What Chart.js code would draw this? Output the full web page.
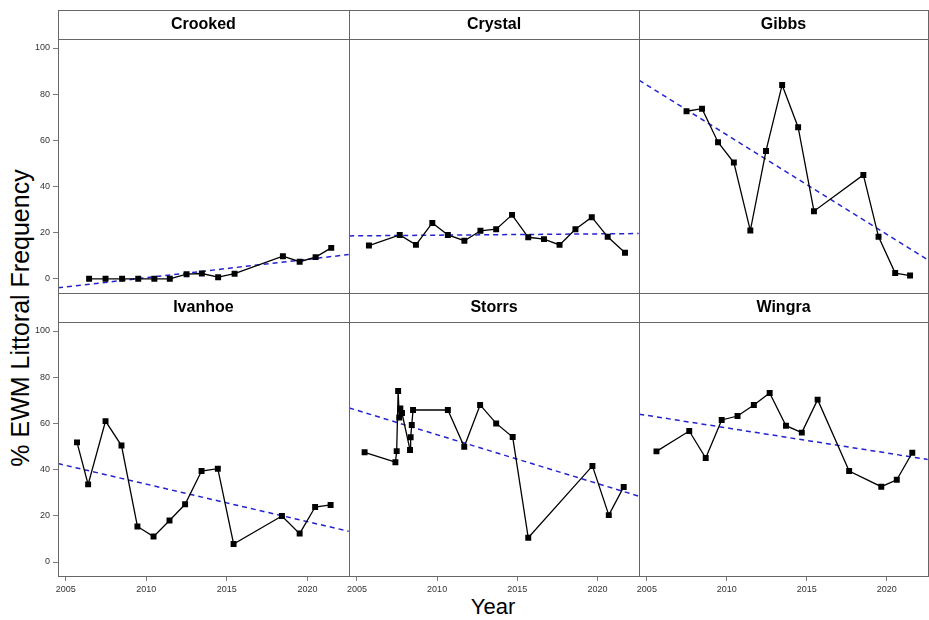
<!DOCTYPE html>
<html>
<head>
<meta charset="utf-8">
<script src="https://cdn.jsdelivr.net/npm/chart.js@4.4.1/dist/chart.umd.min.js"></script>
<style>
html,body{margin:0;padding:0;background:#fff;}
#wrap{position:relative;width:929px;height:620px;overflow:hidden;font-family:"Liberation Sans",Arial,sans-serif;background:#fff;}
#wrap canvas{position:absolute;}
#ylab{position:absolute;left:20px;top:318px;transform:translate(-50%,-50%) rotate(-90deg);font-size:25px;white-space:nowrap;color:#000;}
#xlab{position:absolute;left:493px;top:607px;transform:translate(-50%,-50%);font-size:22px;white-space:nowrap;color:#000;}
</style>
</head>
<body>
<div id="wrap">
  <div id="ylab">% EWM Littoral Frequency</div>
  <div id="xlab">Year</div>
</div>
<script>
// ---- data ----
const lakes = ["Crooked", "Crystal", "Gibbs", "Ivanhoe", "Storrs", "Wingra"];

const crookedYears  = [2006.45, 2007.47, 2008.5, 2009.5, 2010.5, 2011.46, 2012.5, 2013.45, 2014.46, 2015.48, 2018.48, 2019.52, 2020.51, 2021.48];
const crookedValues = [0, 0, 0, 0, 0, 0, 2.0, 2.3, 0.7, 2.2, 9.8, 7.4, 9.4, 13.4];

const crystalYears  = [2005.75, 2007.67, 2008.68, 2009.7, 2010.67, 2011.7, 2012.7, 2013.68, 2014.67, 2015.68, 2016.66, 2017.63, 2018.62, 2019.64, 2020.63, 2021.71];
const crystalValues = [14.4, 19.0, 14.7, 24.2, 19.0, 16.5, 20.8, 21.5, 27.7, 18.0, 17.2, 14.7, 21.5, 26.7, 18.2, 11.3];

const gibbsYears  = [2007.48, 2008.45, 2009.45, 2010.44, 2011.47, 2012.45, 2013.46, 2014.46, 2015.45, 2018.54, 2019.49, 2020.53, 2021.46];
const gibbsValues = [72.6, 73.7, 59.2, 50.4, 20.9, 55.4, 84.0, 65.7, 29.3, 45.0, 18.2, 2.5, 1.4];

const ivanhoeYears  = [2005.70, 2006.39, 2007.47, 2008.46, 2009.45, 2010.45, 2011.44, 2012.41, 2013.43, 2014.44, 2015.42, 2018.42, 2019.52, 2020.48, 2021.44];
const ivanhoeValues = [51.8, 33.6, 61.0, 50.4, 15.4, 11.0, 18.0, 25.0, 39.4, 40.4, 7.8, 19.9, 12.3, 23.8, 24.7];

const storrsYears  = [2005.48, 2007.40, 2007.48, 2007.57, 2007.64, 2007.71, 2007.81, 2008.31, 2008.35, 2008.42, 2008.50, 2010.67, 2011.69, 2012.68, 2013.68, 2014.71, 2015.68, 2019.68, 2020.70, 2021.63];
const storrsValues = [47.5, 43.2, 48.0, 74.0, 62.5, 66.5, 64.5, 48.5, 54.0, 59.3, 65.8, 65.8, 49.9, 68.0, 60.0, 54.1, 10.5, 41.6, 20.3, 32.5];

const wingraYears  = [2005.60, 2007.65, 2008.68, 2009.68, 2010.67, 2011.69, 2012.68, 2013.70, 2014.69, 2015.68, 2017.65, 2019.66, 2020.63, 2021.60];
const wingraValues = [47.9, 56.7, 45.0, 61.5, 63.2, 68.0, 73.2, 59.0, 56.0, 70.3, 39.4, 32.6, 35.6, 47.3];

// linear trend lines: value at left edge and right edge of each panel
const trendStart = [-3.9, 18.6, 86.0, 42.6, 66.7, 64.0];
const trendEnd   = [10.5, 19.6, 8.2, 13.3, 28.5, 44.4];

const xRange = [2004.52, 2022.57];
const yRange = [-6.06, 103.9];
const xTicks = [2005, 2010, 2015, 2020];
const yTicks = [0, 20, 40, 60, 80, 100];

// ---- layout ----
const years  = [crookedYears, crystalYears, gibbsYears, ivanhoeYears, storrsYears, wingraYears];
const values = [crookedValues, crystalValues, gibbsValues, ivanhoeValues, storrsValues, wingraValues];

const colL = [58, 349, 639], colR = [349, 639, 928];
const stripTop = [10, 293], plotBottom = [293, 576];
const FONT = '"Liberation Sans", Arial, sans-serif';
const FRAME = '#666666';

const framePlugin = {
  id: 'frame',
  afterDraw(chart) {
    const ctx = chart.ctx, a = chart.chartArea, t = chart.titleBlock;
    ctx.save();
    ctx.strokeStyle = FRAME;
    ctx.lineWidth = 1;
    const l = Math.round(a.left) + 0.5, r = Math.round(a.right) + 0.5;
    const top = Math.round(a.top) + 0.5, b = Math.round(a.bottom) + 0.5;
    const st = Math.round(t.top) + 0.5;
    ctx.strokeRect(l, top, r - l, b - top);
    ctx.strokeRect(l, st, r - l, top - st);
    ctx.restore();
  }
};

const wrap = document.getElementById('wrap');

lakes.forEach((name, i) => {
  const r = Math.floor(i / 3), c = i % 3;
  const showY = c === 0, showX = r === 1;
  const leftPx = showY ? 0 : colL[c] - 4;
  const padL = showY ? 0 : 4;
  const rightPx = colR[c] + 4;
  const topPx = stripTop[r] - 4;
  const bottomPx = showX ? plotBottom[r] + 30 + 4 : plotBottom[r] + 4;
  const cv = document.createElement('canvas');
  cv.width = rightPx - leftPx;
  cv.height = bottomPx - topPx;
  cv.style.left = leftPx + 'px';
  cv.style.top = topPx + 'px';
  cv.style.width = cv.width + 'px';
  cv.style.height = cv.height + 'px';
  wrap.appendChild(cv);

  const pts = years[i].map((x, k) => ({ x: x, y: values[i][k] }));
  const trend = [{ x: xRange[0], y: trendStart[i] }, { x: xRange[1], y: trendEnd[i] }];

  new Chart(cv, {
    type: 'line',
    data: {
      datasets: [
        {
          data: pts,
          borderColor: '#000',
          borderWidth: 1.3,
          tension: 0,
          pointStyle: 'rect',
          pointRadius: 4.2,
          pointBackgroundColor: '#000',
          pointBorderWidth: 0,
          fill: false
        },
        {
          data: trend,
          borderColor: '#2323d2',
          borderWidth: 1.5,
          borderDash: [5, 4],
          pointRadius: 0,
          tension: 0,
          fill: false
        }
      ]
    },
    options: {
      responsive: false,
      devicePixelRatio: 1,
      animation: false,
      events: [],
      layout: { padding: { left: padL, right: 4, top: 4, bottom: 4 } },
      plugins: {
        legend: { display: false },
        tooltip: { enabled: false },
        title: {
          display: true,
          text: name,
          fullSize: false,
          color: '#000',
          font: { family: FONT, size: 16, weight: 'bold', lineHeight: 1.2 },
          padding: { top: 5, bottom: 4.8 }
        }
      },
      scales: {
        x: {
          type: 'linear',
          display: showX,
          min: xRange[0],
          max: xRange[1],
          afterBuildTicks: s => { s.ticks = xTicks.map(v => ({ value: v })); },
          afterFit: s => {
            s.height = showX ? 30 : 0;
            s.paddingLeft = 0; s.paddingRight = 0;
          },
          ticks: {
            autoSkip: false, maxRotation: 0, minRotation: 0, padding: 3,
            color: '#333', font: { family: FONT, size: 9 },
            callback: v => String(v)
          },
          grid: { drawOnChartArea: false, drawTicks: true, tickLength: 5, color: '#7a7a7a' },
          border: { display: false }
        },
        y: {
          type: 'linear',
          display: showY,
          min: yRange[0],
          max: yRange[1],
          afterBuildTicks: s => { s.ticks = yTicks.map(v => ({ value: v })); },
          afterFit: s => {
            s.width = showY ? 58 : 0;
            s.paddingTop = 0; s.paddingBottom = 0;
          },
          ticks: {
            autoSkip: false, padding: 3,
            color: '#333', font: { family: FONT, size: 9 },
            callback: v => String(v)
          },
          grid: { drawOnChartArea: false, drawTicks: true, tickLength: 5, color: '#7a7a7a' },
          border: { display: false }
        }
      }
    },
    plugins: [framePlugin]
  });
});
</script>
</body>
</html>
